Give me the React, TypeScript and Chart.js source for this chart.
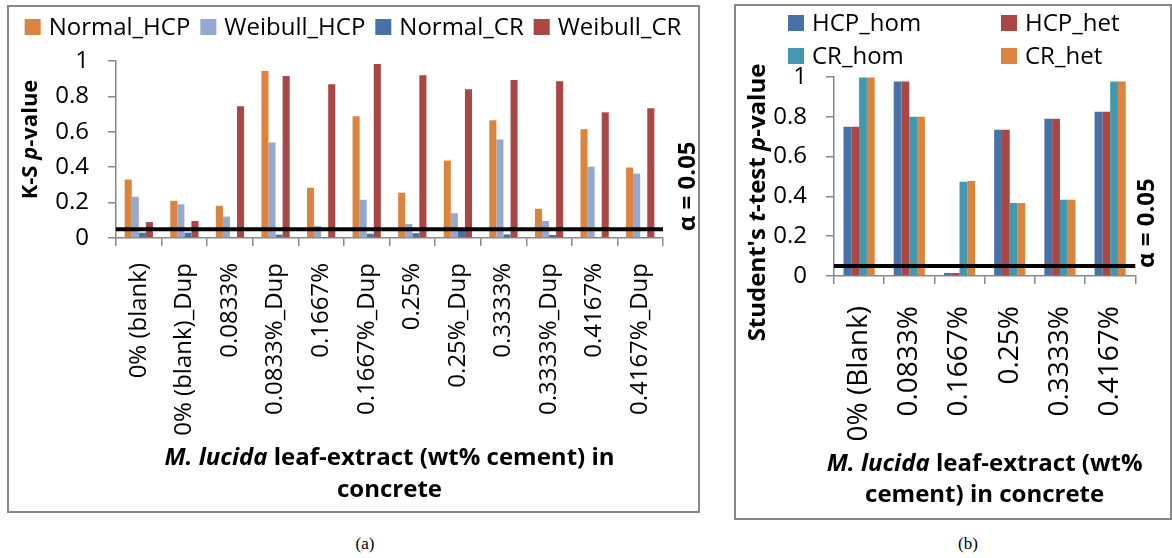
import React, { useEffect, useRef } from 'react';
import { Chart, registerables } from 'chart.js';

Chart.register(...registerables);

// ---------- Data (a) ----------
const ksCategories = ['0% (blank)', '0% (blank)_Dup', '0.0833%', '0.0833%_Dup', '0.1667%', '0.1667%_Dup', '0.25%', '0.25%_Dup', '0.3333%', '0.3333%_Dup', '0.4167%', '0.4167%_Dup'];
const normalHCP = [0.33, 0.21, 0.182, 0.943, 0.284, 0.688, 0.256, 0.437, 0.665, 0.165, 0.615, 0.398];
const weibullHCP = [0.233, 0.19, 0.121, 0.54, 0.068, 0.216, 0.079, 0.14, 0.557, 0.096, 0.403, 0.364];
const normalCR = [0.03, 0.03, 0.002, 0.019, 0.002, 0.024, 0.027, 0.045, 0.02, 0.017, 0.002, 0.002];
const weibullCR = [0.09, 0.096, 0.744, 0.915, 0.869, 0.983, 0.92, 0.841, 0.892, 0.886, 0.71, 0.733];

// ---------- Data (b) ----------
const tCategories = ['0% (Blank)', '0.0833%', '0.1667%', '0.25%', '0.3333%', '0.4167%'];
const hcpHom = [0.75, 0.977, 0.015, 0.735, 0.79, 0.825];
const hcpHet = [0.75, 0.977, 0.015, 0.735, 0.79, 0.825];
const crHom = [0.997, 0.8, 0.473, 0.367, 0.383, 0.977];
const crHet = [0.997, 0.8, 0.478, 0.367, 0.383, 0.977];

const yTickValues = [0, 0.2, 0.4, 0.6, 0.8, 1];
const alphaLevel = 0.05;

const FONT = "'Open Sans', sans-serif";
const AXIS_GREY = '#878787';

type Seg = { t: string; i?: boolean };

function segFont(size: number, italic?: boolean) {
  return `${italic ? 'italic ' : ''}bold ${size}px ${FONT}`;
}

function drawSegs(ctx: CanvasRenderingContext2D, segs: Seg[], size: number, cx: number, cy: number, rotate: boolean) {
  ctx.save();
  ctx.translate(cx, cy);
  if (rotate) ctx.rotate(-Math.PI / 2);
  ctx.textBaseline = 'middle';
  ctx.textAlign = 'left';
  let total = 0;
  const widths = segs.map((s) => {
    ctx.font = segFont(size, s.i);
    const w = ctx.measureText(s.t).width;
    total += w;
    return w;
  });
  let x = -total / 2;
  segs.forEach((s, k) => {
    ctx.font = segFont(size, s.i);
    ctx.fillStyle = '#000';
    ctx.fillText(s.t, x, 0);
    x += widths[k];
  });
  ctx.restore();
}

const figurePlugin = {
  id: 'figureText',
  afterDatasetsDraw(chart: any, _args: any, opts: any) {
    const { ctx, chartArea, scales } = chart;
    const yLine = scales.y.getPixelForValue(opts.threshold);
    ctx.save();
    ctx.strokeStyle = '#000';
    ctx.lineWidth = 4;
    ctx.beginPath();
    ctx.moveTo(chartArea.left, yLine);
    ctx.lineTo(chartArea.right, yLine);
    ctx.stroke();
    ctx.restore();

    // alpha label
    ctx.save();
    ctx.translate(chartArea.right + opts.alphaDx, yLine + 2);
    ctx.rotate(-Math.PI / 2);
    ctx.font = segFont(24);
    ctx.fillStyle = '#000';
    ctx.textAlign = 'left';
    ctx.textBaseline = 'middle';
    ctx.fillText('\u03b1 = ' + String(opts.threshold), 0, 0);
    ctx.restore();
  },
  afterDraw(chart: any, _args: any, opts: any) {
    const { ctx, chartArea } = chart;
    const datasets = chart.data.datasets;
    // legend
    const lg = opts.legend;
    ctx.save();
    ctx.font = `24px ${FONT}`;
    ctx.textBaseline = 'middle';
    ctx.textAlign = 'left';
    const box = 16;
    const gapBoxText = 8;
    if (lg.mode === 'flow') {
      const widths = datasets.map((d: any) => box + gapBoxText + ctx.measureText(d.label).width);
      const total = widths.reduce((a: number, b: number) => a + b, 0) + lg.gap * (datasets.length - 1);
      let x = (chart.width - total) / 2 + lg.shift;
      datasets.forEach((d: any, k: number) => {
        ctx.fillStyle = d.backgroundColor;
        ctx.fillRect(x, lg.y - box / 2, box, box);
        ctx.fillStyle = '#000';
        ctx.fillText(d.label, x + box + gapBoxText, lg.y + 1);
        x += widths[k] + lg.gap;
      });
    } else {
      datasets.forEach((d: any, k: number) => {
        const x = lg.cols[k % lg.cols.length];
        const y = lg.rows[Math.floor(k / lg.cols.length)];
        ctx.fillStyle = d.backgroundColor;
        ctx.fillRect(x, y - box / 2, box, box);
        ctx.fillStyle = '#000';
        ctx.fillText(d.label, x + box + gapBoxText, y + 1);
      });
    }
    ctx.restore();

    // y title
    const yt = opts.yTitle;
    drawSegs(ctx, yt.segs, yt.size, yt.x, (chartArea.top + chartArea.bottom) / 2 + yt.dy, true);

    // x title
    const xt = opts.xTitle;
    const cx = (chartArea.left + chartArea.right) / 2;
    xt.lines.forEach((segs: Seg[], k: number) => {
      drawSegs(ctx, segs, xt.size, cx, chartArea.bottom + xt.dys[k], false);
    });
  },
};

function makeScales(xFont: number, xPad: number, xHeight: number, yWidth: number) {
  return {
    x: {
      grid: { drawOnChartArea: false, color: AXIS_GREY, tickLength: 8, lineWidth: 1.5 },
      border: { color: AXIS_GREY, width: 1.5 },
      ticks: {
        autoSkip: false,
        maxRotation: 90,
        minRotation: 90,
        padding: xPad,
        color: '#000',
        font: { family: FONT, size: xFont },
      },
      afterFit: (s: any) => {
        s.height = xHeight;
      },
    },
    y: {
      min: 0,
      max: 1,
      afterBuildTicks: (s: any) => {
        s.ticks = yTickValues.map((v) => ({ value: v }));
      },
      ticks: {
        padding: 19,
        color: '#000',
        font: { family: FONT, size: 24 },
        callback: (v: any) => String(Math.round(Number(v) * 10) / 10),
      },
      grid: { drawOnChartArea: false, color: AXIS_GREY, tickLength: 8, lineWidth: 1.5 },
      border: { color: AXIS_GREY, width: 1.5 },
      afterFit: (s: any) => {
        s.width = yWidth;
      },
    },
  };
}

function ChartA() {
  const ref = useRef<HTMLCanvasElement | null>(null);
  useEffect(() => {
    if (!ref.current) return;
    const chart = new Chart(ref.current, {
      type: 'bar',
      data: {
        labels: ksCategories,
        datasets: [
          { label: 'Normal_HCP', data: normalHCP, backgroundColor: '#DB843D' },
          { label: 'Weibull_HCP', data: weibullHCP, backgroundColor: '#93A9CF' },
          { label: 'Normal_CR', data: normalCR, backgroundColor: '#4572A7' },
          { label: 'Weibull_CR', data: weibullCR, backgroundColor: '#AA4643' },
        ],
      },
      options: {
        responsive: false,
        animation: false,
        devicePixelRatio: 1,
        layout: { padding: { top: 54, right: 34, left: 0, bottom: 0 } },
        datasets: { bar: { barPercentage: 1, categoryPercentage: 0.62 } },
        plugins: {
          legend: { display: false },
          tooltip: { enabled: false },
          figureText: {
            threshold: alphaLevel,
            alphaDx: 25,
            legend: { mode: 'flow', y: 20, gap: 10, shift: 0 },
            yTitle: { segs: [{ t: 'K-S ' }, { t: 'p', i: true }, { t: '-value' }], size: 22, x: 22, dy: -10 },
            xTitle: {
              size: 24,
              dys: [220, 252],
              lines: [
                [{ t: 'M. lucida', i: true }, { t: ' leaf-extract (wt% cement) in' }],
                [{ t: 'concrete' }],
              ],
            },
          },
        } as any,
        scales: makeScales(24, 17, 272, 107) as any,
      },
      plugins: [figurePlugin as any],
    });
    return () => chart.destroy();
  }, []);
  return <canvas ref={ref} width={688} height={503} style={{ position: 'absolute', left: 9, top: 7, width: 688, height: 503 }} />;
}

function ChartB() {
  const ref = useRef<HTMLCanvasElement | null>(null);
  useEffect(() => {
    if (!ref.current) return;
    const chart = new Chart(ref.current, {
      type: 'bar',
      data: {
        labels: tCategories,
        datasets: [
          { label: 'HCP_hom', data: hcpHom, backgroundColor: '#4572A7' },
          { label: 'HCP_het', data: hcpHet, backgroundColor: '#AA4643' },
          { label: 'CR_hom', data: crHom, backgroundColor: '#4198AF' },
          { label: 'CR_het', data: crHet, backgroundColor: '#DB843D' },
        ],
      },
      options: {
        responsive: false,
        animation: false,
        devicePixelRatio: 1,
        layout: { padding: { top: 71, right: 27, left: 0, bottom: 0 } },
        datasets: { bar: { barPercentage: 1, categoryPercentage: 0.62 } },
        plugins: {
          legend: { display: false },
          tooltip: { enabled: false },
          figureText: {
            threshold: alphaLevel,
            alphaDx: 12,
            legend: { mode: 'grid', cols: [52, 265], rows: [17, 50] },
            yTitle: {
              segs: [{ t: "Student's " }, { t: 't', i: true }, { t: '-test ' }, { t: 'p', i: true }, { t: '-value' }],
              size: 24,
              x: 22,
              dy: 26,
            },
            xTitle: {
              size: 24,
              dys: [188, 219],
              lines: [
                [{ t: 'M. lucida', i: true }, { t: ' leaf-extract (wt%' }],
                [{ t: 'cement) in concrete' }],
              ],
            },
          },
        } as any,
        scales: makeScales(28, 22, 241, 98) as any,
      },
      plugins: [figurePlugin as any],
    });
    return () => chart.destroy();
  }, []);
  return <canvas ref={ref} width={432} height={511} style={{ position: 'absolute', left: 736, top: 6, width: 432, height: 511 }} />;
}

export default function App() {
  return (
    <div style={{ position: 'absolute', left: 0, top: 0, width: 1172, height: 558, background: '#fff', overflow: 'hidden' }}>
      <div style={{ position: 'absolute', left: 7, top: 5, width: 689, height: 504, border: `2px solid ${AXIS_GREY}` }} />
      <div style={{ position: 'absolute', left: 734, top: 4, width: 434, height: 512, border: `2px solid ${AXIS_GREY}` }} />
      <ChartA />
      <ChartB />
      <div style={{ position: 'absolute', left: 340, top: 534, width: 50, textAlign: 'center', fontFamily: "'Liberation Serif', serif", fontSize: 17 }}>(a)</div>
      <div style={{ position: 'absolute', left: 943, top: 534, width: 50, textAlign: 'center', fontFamily: "'Liberation Serif', serif", fontSize: 17 }}>(b)</div>
    </div>
  );
}
